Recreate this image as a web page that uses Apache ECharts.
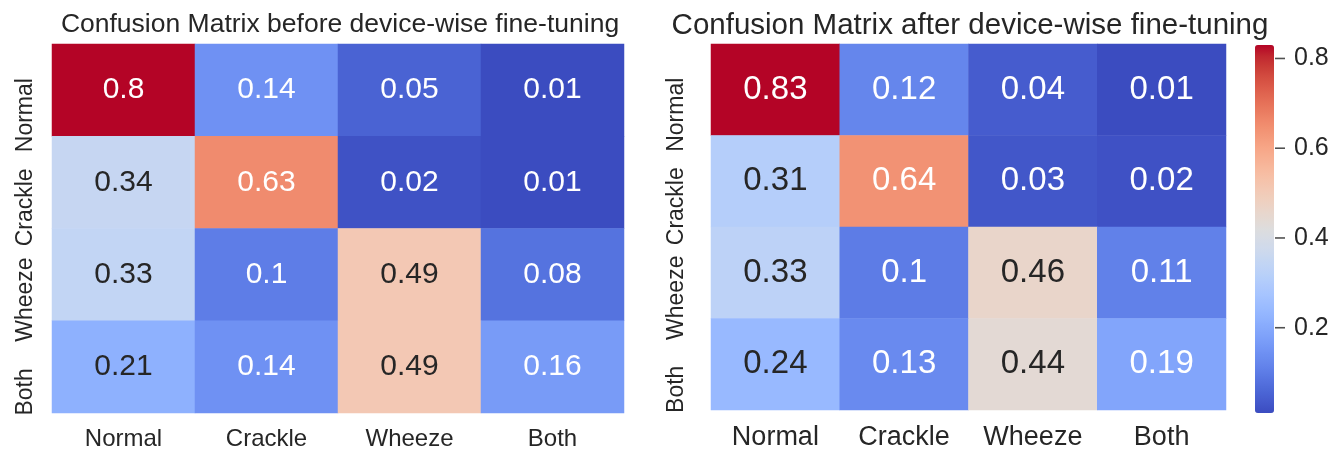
<!DOCTYPE html>
<html>
<head>
<meta charset="utf-8">
<script src="https://cdn.jsdelivr.net/npm/echarts@6/dist/echarts.min.js"></script>
<style>
html,body{margin:0;padding:0;background:#fff;}
#chart{width:1335px;height:451px;}
</style>
</head>
<body>
<div id="chart"></div>
<script>
// ---- data ----
const categories = ['Normal', 'Crackle', 'Wheeze', 'Both'];
const beforeValues = [
  [0.8, 0.14, 0.05, 0.01],
  [0.34, 0.63, 0.02, 0.01],
  [0.33, 0.1, 0.49, 0.08],
  [0.21, 0.14, 0.49, 0.16]
];
const afterValues = [
  [0.83, 0.12, 0.04, 0.01],
  [0.31, 0.64, 0.03, 0.02],
  [0.33, 0.1, 0.46, 0.11],
  [0.24, 0.13, 0.44, 0.19]
];
const titles = ['Confusion Matrix before device-wise fine-tuning', 'Confusion Matrix after device-wise fine-tuning'];
const colorbarTicks = [0.2, 0.4, 0.6, 0.8];

// ---- coolwarm colormap ----
const COOLWARM = [
  [59,76,192],[68,90,204],[77,104,215],[87,117,225],[98,130,234],[108,142,241],[119,154,247],[130,165,251],
  [141,176,254],[152,185,255],[163,194,255],[174,201,253],[184,208,249],[194,213,244],[204,217,238],[213,219,230],
  [221,221,221],[229,216,209],[236,211,197],[241,204,185],[245,196,173],[247,187,160],[247,177,148],[247,166,135],
  [244,154,123],[241,141,111],[236,127,99],[229,112,88],[222,96,77],[213,80,66],[203,62,56],[192,40,47],[180,4,38]
];
const COOLWARM_HEX = COOLWARM.map(c => 'rgb(' + c.join(',') + ')');
function coolwarm(t) {
  t = Math.max(0, Math.min(1, t));
  const n = COOLWARM.length - 1;
  const p = t * n, i = Math.min(Math.floor(p), n - 1), f = p - i;
  return COOLWARM[i].map((v, k) => v + (COOLWARM[i + 1][k] - v) * f);
}
function luminance(rgb) {
  const lin = rgb.map(v => { v = v / 255; return v <= 0.03928 ? v / 12.92 : Math.pow((v + 0.055) / 1.055, 2.4); });
  return 0.2126 * lin[0] + 0.7152 * lin[1] + 0.0722 * lin[2];
}
function extent(m) {
  const flat = m.flat();
  return [Math.min(...flat), Math.max(...flat)];
}
function buildData(m, lo, hi) {
  const out = [];
  m.forEach((row, r) => row.forEach((v, c) => {
    const lum = luminance(coolwarm((v - lo) / (hi - lo)));
    out.push({ value: [c, r, v], label: { color: lum > 0.41 ? '#262626' : '#ffffff' } });
  }));
  return out;
}

const FONT = '"Liberation Sans", Arial, Helvetica, sans-serif';
const TEXT = '#262626';
const [bLo, bHi] = extent(beforeValues);
const [aLo, aHi] = extent(afterValues);

const grids = [
  { left: 52, top: 44, width: 572, height: 369 },
  { left: 711, top: 44, width: 515, height: 369 },
  { left: 1255, top: 45, width: 19, height: 368 }
];
const xFont = [24, 27];
const cellFont = [30, 33];
const yMargin = [15, 23];

const xAxes = [0, 1].map(i => ({
  type: 'category', gridIndex: i, data: categories,
  axisLine: { show: false }, axisTick: { show: false }, splitLine: { show: false },
  axisLabel: { fontSize: xFont[i], color: TEXT, fontFamily: FONT, margin: 14, interval: 0 }
}));
xAxes.push({ type: 'value', gridIndex: 2, show: false, min: 0, max: 1 });

const yAxes = [0, 1].map(i => ({
  type: 'category', gridIndex: i, data: categories, inverse: true,
  axisLine: { show: false }, axisTick: { show: false }, splitLine: { show: false },
  axisLabel: { fontSize: 23, color: TEXT, fontFamily: FONT, rotate: 90, margin: yMargin[i], interval: 0,
    padding: [0, 50, 0, 0] }
}));
yAxes.push({
  type: 'value', gridIndex: 2, position: 'right', min: aLo, max: aHi,
  axisLine: { show: false }, splitLine: { show: false }, axisTick: { show: false },
  axisLabel: { customValues: colorbarTicks, margin: 20, fontSize: 25, color: TEXT, fontFamily: FONT,
    formatter: v => v.toFixed(1) }
});

const chart = echarts.init(document.getElementById('chart'), null, { renderer: 'canvas' });
chart.setOption({
  animation: false,
  backgroundColor: '#ffffff',
  title: [
    { text: titles[0], left: 335, top: 6, textAlign: 'center',
      textStyle: { fontSize: 26.5, fontWeight: 'normal', color: TEXT, fontFamily: FONT } },
    { text: titles[1], left: 965, top: 6, textAlign: 'center',
      textStyle: { fontSize: 29.5, fontWeight: 'normal', color: TEXT, fontFamily: FONT } }
  ],
  grid: grids,
  xAxis: xAxes,
  yAxis: yAxes,
  visualMap: [
    { type: 'continuous', seriesIndex: 0, min: bLo, max: bHi, show: false, inRange: { color: COOLWARM_HEX } },
    { type: 'continuous', seriesIndex: 1, min: aLo, max: aHi, show: true, calculable: false, hoverLink: false,
      left: 1255, top: 45, itemWidth: 19, itemHeight: 368, padding: 0, text: null,
      inRange: { color: COOLWARM_HEX } }
  ],
  series: [
    { type: 'heatmap', xAxisIndex: 0, yAxisIndex: 0, data: buildData(beforeValues, bLo, bHi),
      label: { show: true, fontSize: cellFont[0], fontFamily: FONT, formatter: p => String(p.value[2]) } },
    { type: 'heatmap', xAxisIndex: 1, yAxisIndex: 1, data: buildData(afterValues, aLo, aHi),
      label: { show: true, fontSize: cellFont[1], fontFamily: FONT, formatter: p => String(p.value[2]) } },
    // colorbar tick marks, placed at the right edge of the colorbar
    { type: 'scatter', xAxisIndex: 2, yAxisIndex: 2, clip: false, silent: true,
      symbol: 'rect', symbolSize: [10, 1.6], symbolOffset: [6, 0],
      itemStyle: { color: TEXT },
      data: colorbarTicks.map(v => [1, v]) }
  ]
});
</script>
</body>
</html>
